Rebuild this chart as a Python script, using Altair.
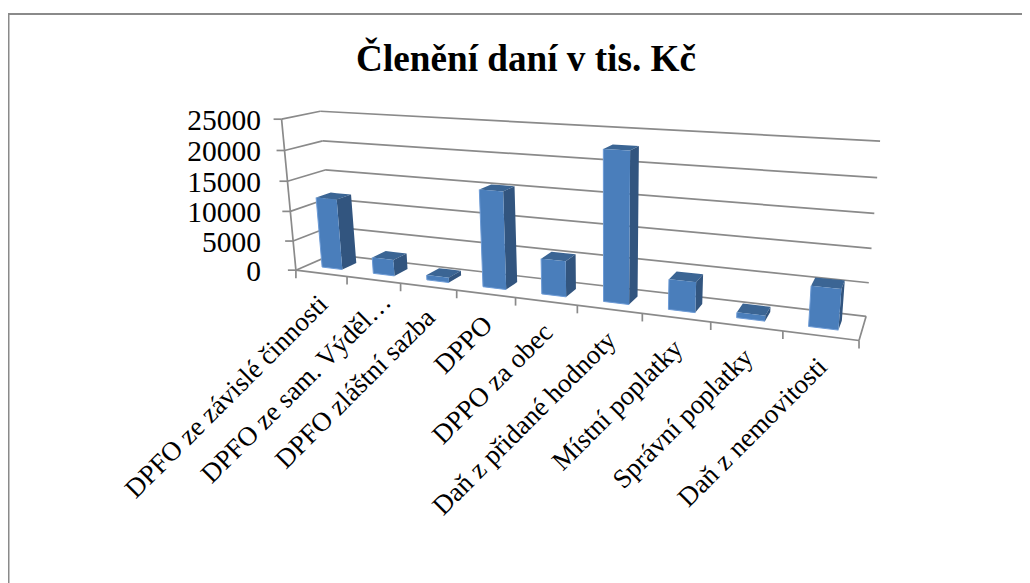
import altair as alt
import numpy as np
import pandas as pd

title_text = "Členění daní v tis. Kč"
categories = ["DPFO ze závislé činnosti", "DPFO ze sam. Výděl…", "DPFO zláštní sazba", "DPPO",
              "DPPO za obec", "Daň z přidané hodnoty", "Místní poplatky", "Správní poplatky",
              "Daň z nemovitosti"]
values = [11900, 2700, 800, 15500, 5600, 22900, 4600, 800, 5900]
y_ticks = [0, 5000, 10000, 15000, 20000, 25000]

W, H = 1014, 575
OX, OY = 8, 8
# calibration of the 3D box: (category pos, depth, value) -> picture position
front_floor_x = [296, 347.3, 400.3, 456.7, 515.7, 576.7, 642.3, 710.7, 783.3, 859.3]
front_axis = [(296, 270), (293, 241), (290, 211), (286.7, 181), (284, 150.7), (283, 120)]
back_left = [(332.7, 256), (330, 227), (327.7, 198), (325, 169), (322.3, 140.7), (320, 111)]
back_right = [(865.7, 316), (868.7, 282.3), (871.7, 248.3), (874.7, 213.7), (877.3, 177.7), (880, 141.7)]

pts = []
for i, x in enumerate(front_floor_x):
    pts.append(((i, 0, 0), (x, 270 + (x - 296) * (340.7 - 270) / (859.3 - 296))))
for k in range(6):
    pts.append(((0, 0, k), front_axis[k]))
    pts.append(((0, 1, k), back_left[k]))
    pts.append(((9, 1, k), back_right[k]))

src = np.array([[p[0][0], p[0][1], p[0][2], 1.0] for p in pts])
dst = np.array([p[1] for p in pts], float) / 500

A = []
for P, (x, y) in zip(src, dst):
    P = list(P)
    A.append(P + [0, 0, 0, 0] + [-x * p for p in P])
    A.append([0, 0, 0, 0] + P + [-y * p for p in P])
m = np.linalg.svd(np.array(A, float))[2][-1]


def residual(par):
    M_ = par.reshape(3, 4)
    h = src @ M_.T
    return ((h[:, :2] / h[:, 2:3]) - dst).ravel()


for _ in range(40):  # refine on picture distance
    r = residual(m)
    J = np.zeros((r.size, 12))
    for j in range(12):
        d = np.zeros(12)
        d[j] = 1e-6
        J[:, j] = (residual(m + d) - r) / 1e-6
    m = m + np.linalg.lstsq(J, -r, rcond=1e-8)[0]
    m = m / np.linalg.norm(m)
M = m.reshape(3, 4)


def proj(u, w, value):
    h = M @ np.array([u, w, value / 5000, 1.0])
    return (h[0] / h[2] * 500 - OX, h[1] / h[2] * 500 - OY)


def area_rows(poly_id, face, verts):
    xs = sorted({round(v[0], 3) for v in verts})
    rows = []
    n = len(verts)
    for x in xs:
        ys = []
        for a in range(n):
            (x0, y0), (x1, y1) = verts[a], verts[(a + 1) % n]
            lo, hi = min(x0, x1) - 0.002, max(x0, x1) + 0.002
            if lo <= x <= hi:
                if abs(x1 - x0) < 1e-6:
                    ys += [y0, y1]
                else:
                    ys.append(y0 + (y1 - y0) * (x - x0) / (x1 - x0))
        rows.append({"poly": poly_id, "face": face, "x": x, "y": min(ys), "y2": max(ys)})
    return rows


# lines of the box
lines = []
def add_line(a, b):
    lines.append({"x": a[0], "y": a[1], "x2": b[0], "y2": b[1]})

for t in y_ticks:
    add_line(proj(0, 1, t), proj(9, 1, t))
    add_line(proj(0, 0, t), proj(0, 1, t))
    p = proj(0, 0, t)
    add_line((p[0] - 8, p[1]), p)
add_line(proj(0, 0, 0), proj(0, 0, y_ticks[-1]))
add_line(proj(0, 0, 0), proj(9, 0, 0))
add_line(proj(9, 0, 0), proj(9, 1, 0))
for i in range(10):
    p = proj(i, 0, 0)
    add_line(p, (p[0], p[1] + 8))
frame = [{"x": 0, "y": 6, "x2": W, "y2": 6}, {"x": 0.5, "y": 6, "x2": 0.5, "y2": H}]

# bars
rows = []
rims = []
U0, U1, W0, W1 = 0.3, 0.7, 0.3, 0.7
for i, val in enumerate(values):
    u0, u1 = i + U0, i + U1
    rows += area_rows(f"{i}a", "top", [proj(u0, W0, val), proj(u1, W0, val), proj(u1, W1, val), proj(u0, W1, val)])
    rows += area_rows(f"{i}b", "side", [proj(u1, W0, 0), proj(u1, W1, 0), proj(u1, W1, val), proj(u1, W0, val)])
    rows += area_rows(f"{i}c", "front", [proj(u0, W0, 0), proj(u1, W0, 0), proj(u1, W0, val), proj(u0, W0, val)])
    a, b, c = proj(u0, W0, 0), proj(u1, W0, 0), proj(u0, W0, val)
    rims.append({"x": a[0], "y": a[1], "x2": b[0], "y2": b[1]})
    rims.append({"x": a[0], "y": a[1], "x2": c[0], "y2": c[1]})
bars = pd.DataFrame(rows)

# labels
yl = []
for t in y_ticks:
    yl.append({"x": 261 - OX, "y": proj(0, 0, t)[1] + 2, "t": str(t)})
cl = []
for i, c in enumerate(categories):
    p = proj(i + 0.5, 0, 0)
    dx, dy = (11, -9) if c.endswith("…") else (0, 0)  # the shortened label sits further along its tick
    cl.append({"x": p[0] + 2.5 + dx, "y": p[1] + 27 + dy, "t": c})

x = alt.X("x:Q", scale=alt.Scale(domain=[0, W], range=[0, W], nice=False), axis=None)
y = alt.Y("y:Q", scale=alt.Scale(domain=[0, H], range=[0, H], nice=False), axis=None)

grid = alt.Chart(pd.DataFrame(lines)).mark_rule(strokeWidth=1.7).encode(
    x=x, y=y, x2="x2:Q", y2="y2:Q", color=alt.value("#8a8a8a"))
frm = alt.Chart(pd.DataFrame(frame)).mark_rule(strokeWidth=2).encode(
    x=x, y=y, x2="x2:Q", y2="y2:Q", color=alt.value("#8a8a8a"))

area = alt.Chart(bars).mark_area(interpolate="linear").encode(
    x=x, y=y, y2="y2:Q", detail="poly:N",
    color=alt.Color("face:N", legend=None,
                    scale=alt.Scale(domain=["front", "side", "top"], range=["#4a7ebb", "#32557f", "#3b6594"])))
rim = alt.Chart(pd.DataFrame(rims)).mark_rule(strokeWidth=1).encode(
    x=x, y=y, x2="x2:Q", y2="y2:Q", color=alt.value("#6d9bd6"))

font = "Liberation Serif"
ylab = alt.Chart(pd.DataFrame(yl)).mark_text(font=font, fontSize=29.5, align="right", baseline="middle", color="black").encode(
    x=x, y=y, text="t:N")
clab = alt.Chart(pd.DataFrame(cl)).mark_text(font=font, fontSize=27, align="right", baseline="middle", angle=315, color="black").encode(
    x=x, y=y, text="t:N")
ttl = alt.Chart(pd.DataFrame([{"x": 526 - OX, "y": 60 - OY, "t": title_text}])).mark_text(
    font=font, fontSize=37.2, fontWeight="bold", align="center", baseline="middle", color="black").encode(
    x=x, y=y, text="t:N")

chart = alt.layer(grid, frm, area, rim, ylab, clab, ttl).properties(
    width=W, height=H, padding=0, autosize=alt.AutoSizeParams(type="none"), background="white"
).configure_view(stroke=None)
chart.save("out.html", embed_options={"renderer": "svg", "actions": False})
